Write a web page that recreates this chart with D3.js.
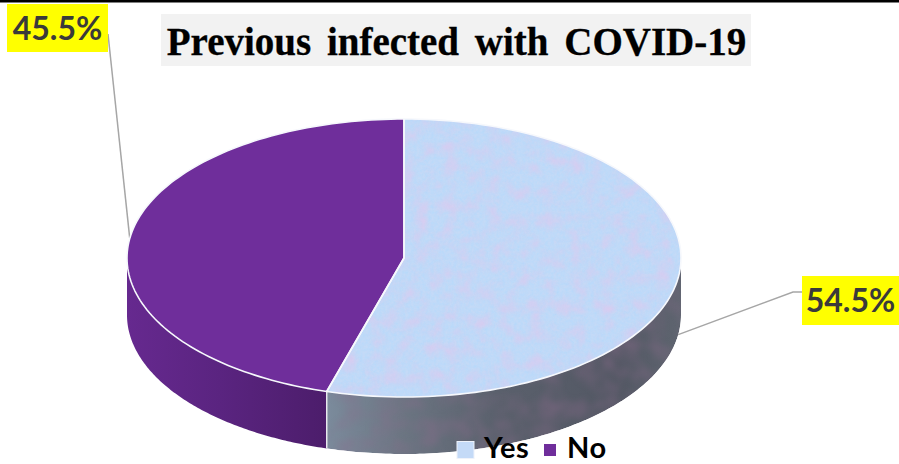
<!DOCTYPE html>
<html>
<head>
<meta charset="utf-8">
<script src="https://cdn.jsdelivr.net/npm/d3@7/dist/d3.min.js"></script>
<style>
html,body{margin:0;padding:0;background:#fff;overflow:hidden}
svg{display:block}
</style>
</head>
<body>
<svg id="chart" width="899" height="464"></svg>
<script>
const categories = ["Yes", "No"];
const percentages = [54.5, 45.5];
const chartTitle = "Previous infected with COVID-19";

const width = 899, height = 464;
const svg = d3.select("#chart");
const cx = 404, cy = 258, rx = 277, ry = 139, depth = 57;

const topFill = {Yes: "#c4daf7", No: "#6f2e9b"};

// Tilted-disc projection: angle 0 points up, clockwise, as d3.pie reports it
const project = (a, drop = 0) => [cx + rx * Math.sin(a), cy - ry * Math.cos(a) + drop];
const curve = d3.line();
const sweep = (a0, a1, drop = 0) =>
  d3.range(0, 121).map(i => project(a0 + (a1 - a0) * i / 120, drop));

const slices = d3.pie().sort(null).value(d => d)(percentages)
  .map((s, i) => ({...s, name: categories[i]}));

const defs = svg.append("defs");

function wallGradient(id, stops) {
  const g = defs.append("linearGradient").attr("id", id)
    .attr("gradientUnits", "userSpaceOnUse")
    .attr("x1", stops[0][0]).attr("x2", stops[stops.length - 1][0])
    .attr("y1", 0).attr("y2", 0);
  const span = stops[stops.length - 1][0] - stops[0][0];
  stops.forEach(([x, c]) => g.append("stop")
    .attr("offset", (x - stops[0][0]) / span).attr("stop-color", c));
}
wallGradient("wallYes", [[327, "#7b8b9c"], [400, "#6c7683"], [500, "#5a606c"], [620, "#535864"], [681, "#5f6570"]]);
wallGradient("wallNo", [[127, "#66298f"], [220, "#5a2480"], [327, "#4c1d6b"]]);

// Noise layer helper: tinted, softened turbulence with alpha driven by the red channel
function noiseLayer(filter, freq, octaves, seed, rgb, gain, bias, blur, name) {
  filter.append("feTurbulence").attr("type", "fractalNoise").attr("baseFrequency", freq)
    .attr("numOctaves", octaves).attr("seed", seed).attr("result", name + "Raw");
  filter.append("feColorMatrix").attr("in", name + "Raw").attr("type", "matrix")
    .attr("values", `0 0 0 0 ${rgb[0]}  0 0 0 0 ${rgb[1]}  0 0 0 0 ${rgb[2]}  ${gain} 0 0 0 ${bias}`)
    .attr("result", name + "Tint");
  filter.append("feGaussianBlur").attr("in", name + "Tint").attr("stdDeviation", blur)
    .attr("result", name);
}
function finishTexture(filter, layers) {
  const merge = filter.append("feMerge").attr("result", "texture");
  merge.append("feMergeNode").attr("in", "SourceGraphic");
  layers.forEach(n => merge.append("feMergeNode").attr("in", n));
  filter.append("feComposite").attr("in", "texture").attr("in2", "SourceAlpha").attr("operator", "in");
}

// Speckled top surface: fine blue grain plus soft pink blotches
const mottle = defs.append("filter").attr("id", "mottle")
  .attr("x", 0).attr("y", 0).attr("width", 1).attr("height", 1)
  .attr("color-interpolation-filters", "sRGB");
noiseLayer(mottle, 0.35, 2, 4, [0.72, 0.85, 0.98], 1.6, -0.45, 0.5, "blue");
noiseLayer(mottle, 0.07, 3, 11, [0.88, 0.78, 0.93], 1.5, -0.66, 1.2, "pink");
finishTexture(mottle, ["blue", "pink"]);

// Muted mottling on the rim
const wallTexture = defs.append("filter").attr("id", "wallTexture")
  .attr("x", 0).attr("y", 0).attr("width", 1).attr("height", 1)
  .attr("color-interpolation-filters", "sRGB");
noiseLayer(wallTexture, 0.05, 2, 7, [0.55, 0.42, 0.55], 0.9, -0.34, 2, "tint");
finishTexture(wallTexture, ["tint"]);

svg.append("rect").attr("width", width).attr("height", height).attr("fill", "#fff");
svg.append("rect").attr("width", width).attr("height", 2.5).attr("fill", "#000");

// Leader lines sit underneath the disc
const leader = d3.line();
const [yes, no] = slices;
const mid = s => (s.startAngle + s.endAngle) / 2;
svg.append("path").attr("fill", "none").attr("stroke", "#a6a6a6").attr("stroke-width", 1.5)
  .attr("d", leader([project(mid(yes), depth), [793, 292], [803, 292]]));
svg.append("path").attr("fill", "none").attr("stroke", "#a6a6a6").attr("stroke-width", 1.5)
  .attr("d", leader([[108, 34], project(mid(no))]));

// Visible rim: only the front half of the disc (a between 90deg and 270deg)
const rim = (a0, a1) => {
  const upper = sweep(a0, a1);
  const lower = sweep(a1, a0, depth);
  return curve([...upper, ...lower]) + "Z";
};
const front = [Math.PI / 2, 3 * Math.PI / 2];
svg.append("path").attr("d", rim(front[0], yes.endAngle))
  .attr("fill", "url(#wallYes)").attr("filter", "url(#wallTexture)");
svg.append("path").attr("d", rim(no.startAngle, front[1]))
  .attr("fill", "url(#wallNo)");
svg.append("path")
  .attr("d", curve([project(yes.endAngle), project(yes.endAngle, depth)]))
  .attr("stroke", "#e8e8ee").attr("stroke-width", 1.5).attr("fill", "none");

// Top face of each slice
svg.selectAll("path.slice").data(slices).join("path")
  .attr("class", "slice")
  .attr("d", d => curve([[cx, cy], ...sweep(d.startAngle, d.endAngle)]) + "Z")
  .attr("fill", d => topFill[d.name])
  .attr("filter", d => d.name === "Yes" ? "url(#mottle)" : null);
svg.selectAll("path.edge").data(slices).join("path")
  .attr("class", "edge")
  .attr("d", d => curve([[cx, cy], ...sweep(d.startAngle, d.endAngle)]) + "Z")
  .attr("fill", "none").attr("stroke", "#f6f8fc").attr("stroke-width", 1.6)
  .attr("stroke-linejoin", "round");

// Title with its grey plate
svg.append("rect").attr("x", 161).attr("y", 14).attr("width", 590).attr("height", 52).attr("fill", "#f2f2f2");
svg.append("text").attr("x", 456.5).attr("y", 55).attr("text-anchor", "middle")
  .attr("font-family", "'Liberation Serif', serif").attr("font-weight", 700)
  .attr("font-size", 39).attr("word-spacing", 6).attr("fill", "#000")
  .attr("stroke", "#000").attr("stroke-width", 0.3)
  .text(chartTitle);

// Value callouts on yellow plates
const fmt = v => v.toFixed(1) + "%";
const callouts = [
  {value: no.value, x: 7, y: 4, w: 101, h: 48},
  {value: yes.value, x: 802, y: 276, w: 97, h: 49}
];
const plate = svg.selectAll("g.callout").data(callouts).join("g").attr("class", "callout");
plate.append("rect").attr("x", d => d.x).attr("y", d => d.y)
  .attr("width", d => d.w).attr("height", d => d.h).attr("fill", "#ffff00");
plate.append("text").attr("x", d => d.x + d.w / 2).attr("y", d => d.y + 36)
  .attr("text-anchor", "middle").attr("font-family", "Lato, sans-serif").attr("font-weight", 700)
  .attr("font-size", 32).attr("fill", "#3a3a3a").text(d => fmt(d.value));

// Legend along the bottom edge
const legendItems = [
  {name: categories[0], sx: 457, size: 17, tx: 484},
  {name: categories[1], sx: 544, size: 12, tx: 567}
];
const lg = svg.selectAll("g.legend").data(legendItems).join("g").attr("class", "legend");
lg.append("rect").attr("x", d => d.sx).attr("y", d => 450 - d.size / 2)
  .attr("width", d => d.size).attr("height", d => d.size)
  .attr("fill", d => topFill[d.name]).attr("stroke", d => d.name === "Yes" ? "#eef2fa" : "none");
lg.append("text").attr("x", d => d.tx).attr("y", 458)
  .attr("font-family", "Lato, sans-serif").attr("font-weight", 700)
  .attr("font-size", 29).attr("letter-spacing", 0.5).attr("fill", "#000").text(d => d.name);
</script>
</body>
</html>
